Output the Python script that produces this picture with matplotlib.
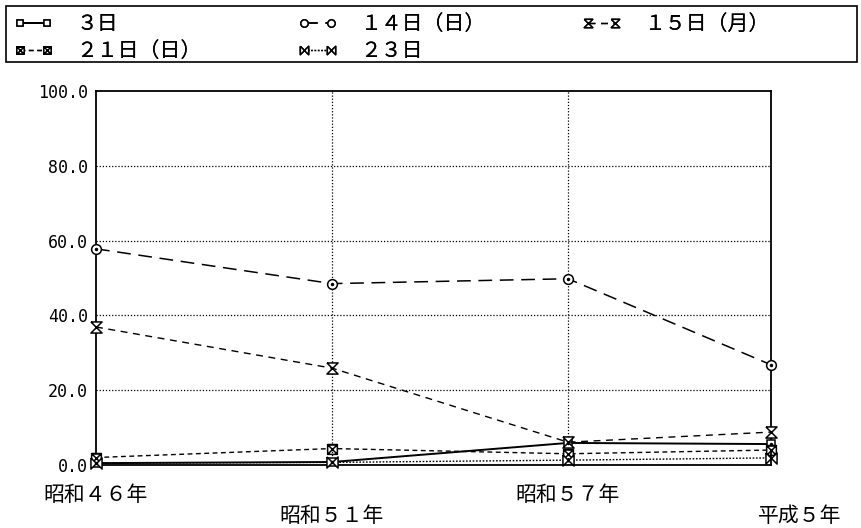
import matplotlib
matplotlib.use("Agg")
import matplotlib.pyplot as plt
import matplotlib.transforms as mtransforms
from matplotlib.patches import Rectangle

plt.rcParams['font.family'] = ['Noto Sans CJK JP', 'DejaVu Sans']

# data
years = ['昭和４６年', '昭和５１年', '昭和５７年', '平成５年']
x_pos = [0, 1, 2, 2.86]
day3 = [0.5, 0.8, 5.9, 5.6]
day14 = [57.8, 48.5, 49.8, 26.8]
day15 = [36.9, 25.9, 6.1, 8.8]
day21 = [2.0, 4.4, 3.0, 4.0]
day23 = [0.5, 0.7, 1.3, 1.9]
names = ['３日', '１４日（日）', '１５日（月）', '２１日（日）', '２３日']
yticks = [0, 20, 40, 60, 80, 100]

hourglass = [(-1, 1), (1, 1), (-1, -1), (1, -1), (-1, 1)]
bowtie = [(-1, 1), (-1, -1), (1, 1), (1, -1), (-1, 1)]
boxx = [(-1, -1), (1, -1), (1, 1), (-1, 1), (-1, -1), (1, 1), (-1, 1), (1, -1)]

series = [
    (day3, '-', 's', 1.4, 6),
    (day14, (0, (9, 5)), 'o', 1.1, 7),
    (day15, (0, (5, 4)), hourglass, 1.0, 8),
    (day21, (0, (3.5, 2.5)), boxx, 1.0, 7),
    (day23, (0, (1.2, 1.2)), bowtie, 1.0, 8),
]

fig = plt.figure(figsize=(8.61, 5.28), dpi=100)
ax = fig.add_axes([96 / 861, 1 - 465 / 528, (771 - 96) / 861, (465 - 91) / 528])

handles = []
for vals, ls, mk, lw, ms in series:
    ln, = ax.plot(x_pos, vals, color='black', linestyle=ls, linewidth=lw,
                  marker=mk, markersize=ms, markerfacecolor='white',
                  markeredgecolor='black', markeredgewidth=1.1, clip_on=False, zorder=3)
    handles.append(ln)

# centre dots on square and circle markers
for vals in (day3, day14):
    ax.plot(x_pos, vals, linestyle='none', marker='o', markersize=1.5,
            color='black', clip_on=False, zorder=4)

ax.set_xlim(x_pos[0], x_pos[-1])
ax.set_ylim(0, 100)
ax.set_yticks(yticks)
ax.set_yticklabels(['%.1f' % v for v in yticks], family='DejaVu Sans Mono', fontsize=12)
ax.tick_params(axis='y', length=0, pad=6)
ax.set_xticks([])

for v in yticks[1:-1]:
    ax.axhline(v, color='black', linestyle=(0, (1, 1.5)), linewidth=0.9, zorder=1)
for x in x_pos[1:-1]:
    ax.axvline(x, color='black', linestyle=(0, (1, 1.5)), linewidth=0.9, zorder=1)

for s in ax.spines.values():
    s.set_linewidth(1.3)

# staggered category labels
for i, (x, lab) in enumerate(zip(x_pos, years)):
    dy = -30 if i % 2 == 0 else -51
    dx = 29 if i == len(years) - 1 else 0
    tr = ax.get_xaxis_transform() + mtransforms.ScaledTranslation(dx / 100, dy / 100, fig.dpi_scale_trans)
    ax.text(x, 0, lab, transform=tr, ha='center', va='center', fontsize=15)

# legend box across the top
fig.patches.append(Rectangle((6 / 861, 1 - 62 / 528), 851 / 861, 56 / 528,
                             transform=fig.transFigure, fill=False,
                             edgecolor='black', linewidth=1.2))

# three equally spaced legend columns: (3, 21), (14, 23), (15)
columns = [[0, 3], [1, 4], [2]]
col_x = [14, 298, 582]
for cols, cx in zip(columns, col_x):
    leg = fig.legend([handles[i] for i in cols], [names[i] for i in cols],
                     loc='upper left', numpoints=2,
                     bbox_to_anchor=(cx / 861, 1 - 13 / 528),
                     fontsize=15, handlelength=1.9, handletextpad=1.1,
                     borderaxespad=0, borderpad=0, labelspacing=0.25,
                     frameon=False, markerscale=0.75)
    fig.add_artist(leg)

fig.savefig('out.png', dpi=100)
